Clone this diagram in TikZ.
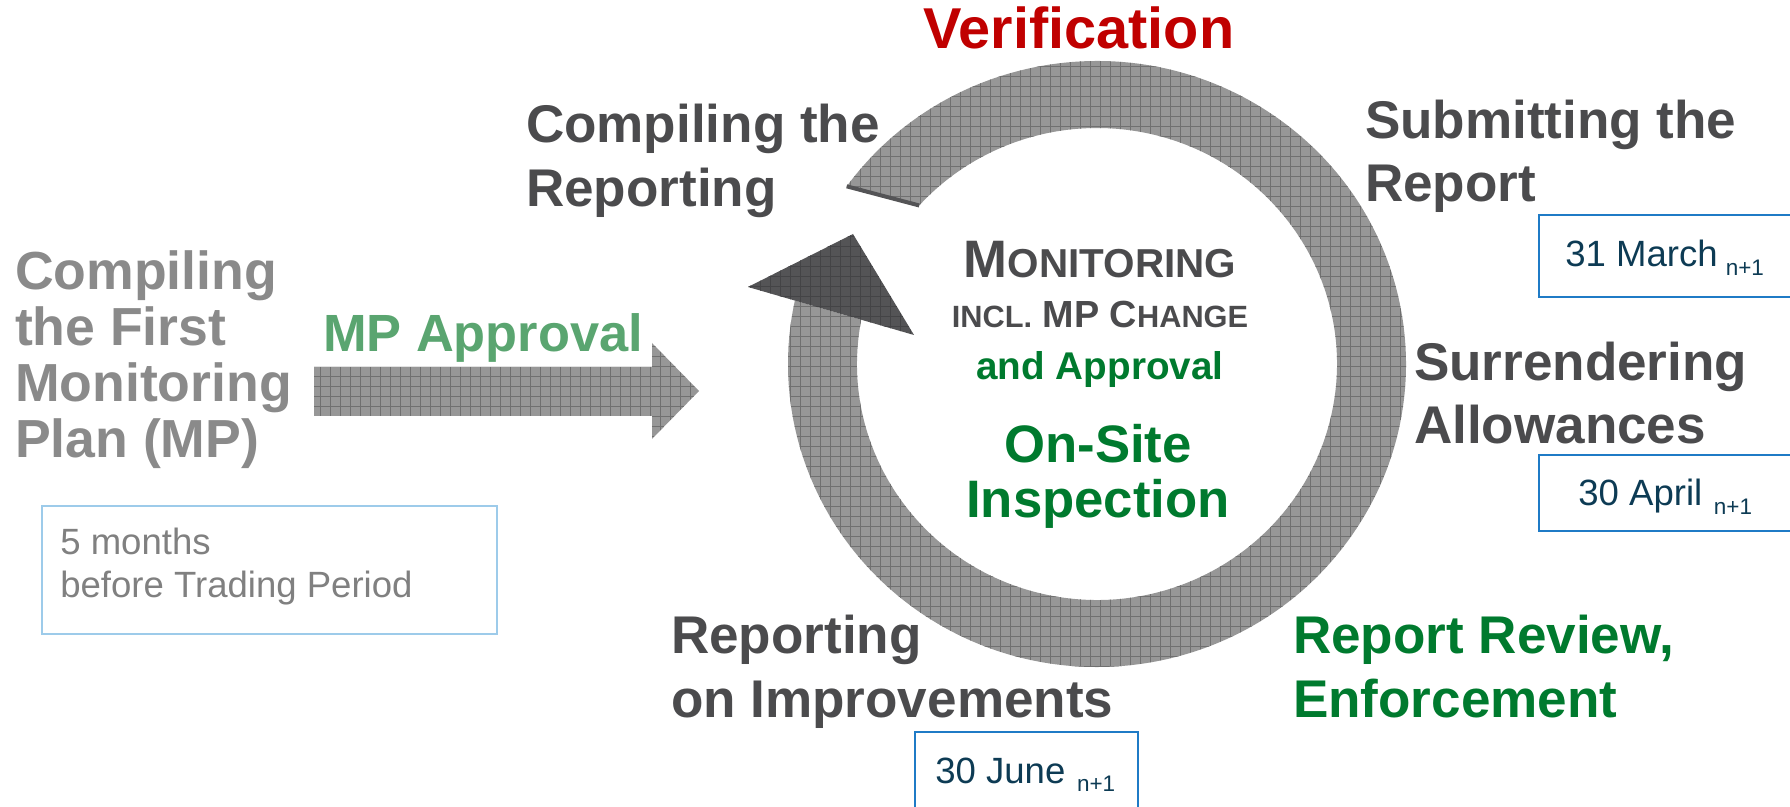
\documentclass[tikz,border=0pt]{standalone}
\usepackage{fontspec}
\setmainfont{Liberation Sans}
\usetikzlibrary{patterns.meta}

\definecolor{txtdark}{HTML}{4B4B4D}
\definecolor{txtlight}{HTML}{8A8A8A}
\definecolor{txtred}{HTML}{C00000}
\definecolor{txtgreen}{HTML}{007A2E}
\definecolor{txtlgreen}{HTML}{5AA570}
\definecolor{datetxt}{HTML}{0D3B54}
\definecolor{dateline}{HTML}{1F7BC6}
\definecolor{noteline}{HTML}{9DCBEA}
\definecolor{notetxt}{HTML}{808080}
\definecolor{ringgray}{HTML}{979797}
\definecolor{ringgrid}{HTML}{707070}
\definecolor{headgray}{HTML}{545456}
\definecolor{headgrid}{HTML}{444446}

\newcommand\lblfont{\fontsize{30.2}{36.4}\selectfont\bfseries}
\newcommand\datefont{\fontsize{20.8}{24.5}\selectfont}
\newcommand\subfont{\fontsize{12.8}{14}\selectfont}

% multi-line nodes below are placed by the baseline of their last line
\tikzset{
  ringfill/.style={fill=ringgray,
    postaction={pattern={Hatch[distance=2mm,angle=0,line width=0.2mm]},pattern color=ringgrid}},
  headfill/.style={fill=headgray,
    postaction={pattern={Hatch[distance=2mm,angle=0,line width=0.2mm]},pattern color=headgrid}},
  lbl/.style={inner sep=0pt, outer sep=0pt, anchor=base west, align=left, font=\lblfont, text=txtdark},
  ctr/.style={inner sep=0pt, outer sep=0pt, anchor=base, align=center},
  datebox/.style={draw=dateline, line width=0.4mm},
  datetext/.style={inner sep=0pt, anchor=base west, font=\datefont, text=datetxt},
}

\begin{document}
\begin{tikzpicture}[x=0.2mm,y=0.2mm]
\useasboundingbox (0,0) rectangle (1790,-807);

% ---- circular arrow ----
\coordinate (c) at (1097,-364);
\coordinate (cutout) at ([shift={(144.1:309 and 303)}]c);
\coordinate (cutin)  at ([shift={(137.8:240 and 236)}]c);
\coordinate (endin)  at ([shift={(-190.8:240 and 236)}]c);
\coordinate (headl) at (748,-287);
\coordinate (headt) at (853,-234);
\coordinate (headr) at (914,-335);

\path[ringfill] (cutout)
  arc[start angle=144.1, end angle=-192.1, x radius=309, y radius=303]
  -- (endin)
  arc[start angle=-190.8, end angle=137.8, x radius=240, y radius=236]
  -- cycle;
\path[headfill] (headl) -- (headt) -- (headr) -- cycle;
\draw[headgray, line width=0.8mm] (cutout) -- (cutin);

% ---- approval arrow ----
\path[ringfill] (314,-367) -- (652,-367) -- (652,-343) -- (699,-391)
  -- (652,-439) -- (652,-416) -- (314,-416) -- cycle;
\node[lbl, text=txtlgreen, font={\fontsize{29.8}{36}\selectfont\bfseries}] (mpapp) at (323,-352) {MP Approval};

% ---- first monitoring plan ----
\node[lbl, text=txtlight, font={\fontsize{30.5}{31.9}\selectfont\bfseries}] (first) at (15,-458)
  {Compiling\\the First\\Monitoring\\Plan (MP)};
\draw[noteline, line width=0.3mm] (42,-506) rectangle (497,-634);
\node[inner sep=0pt, anchor=base west, align=left, text=notetxt, font=\datefont] (note) at (60,-598)
  {5 months\\before Trading Period};

% ---- cycle labels ----
\node[ctr, text=txtred, font={\fontsize{32.8}{36}\selectfont\bfseries}] (verif) at (1079,-49) {Verification};
\node[lbl] (compile) at (526,-206.6) {Compiling the\\Reporting};
\node[lbl] (submit) at (1365,-202) {Submitting the\\Report};
\node[lbl] (surr) at (1414,-444) {Surrendering\\Allowances};
\node[lbl] (improve) at (671,-717) {Reporting\\on Improvements};
\node[lbl, text=txtgreen] (review) at (1293,-717) {Report Review,\\Enforcement};

% ---- centre text ----
\node[ctr, text=txtdark, font=\bfseries] (mon) at (1100,-278)
  {{\fontsize{30}{30}\selectfont M}{\fontsize{23}{23}\selectfont ONITORING}};
\node[ctr, text=txtdark, font=\bfseries] (incl) at (1100,-328)
  {{\fontsize{17.5}{18}\selectfont INCL.}{\fontsize{21.5}{22}\selectfont\ MP C}{\fontsize{17.5}{18}\selectfont HANGE}};
\node[ctr, text=txtgreen, font={\fontsize{22}{24}\selectfont\bfseries}] (andapp) at (1100,-380) {and Approval};
\node[ctr, text=txtgreen, font={\fontsize{30}{31.3}\selectfont\bfseries}] (onsite) at (1098,-518) {On-Site\\Inspection};

% ---- deadlines ----
\draw[datebox] (1790,-215) -- (1539,-215) -- (1539,-297) -- (1790,-297);
\node[datetext] (march) at (1565,-267) {31 March\hspace{4.6pt}\raisebox{-5.1pt}{\subfont n+1}};
\draw[datebox] (1790,-455) -- (1539,-455) -- (1539,-531) -- (1790,-531);
\node[datetext] (april) at (1578,-506) {30 April\hspace{6.6pt}\raisebox{-4.6pt}{\subfont n+1}};
\draw[datebox] (915,-812) -- (915,-732) -- (1138,-732) -- (1138,-812);
\node[datetext] (june) at (935,-783) {30 June\hspace{6.6pt}\raisebox{-5.1pt}{\subfont n+1}};
\end{tikzpicture}
\end{document}
